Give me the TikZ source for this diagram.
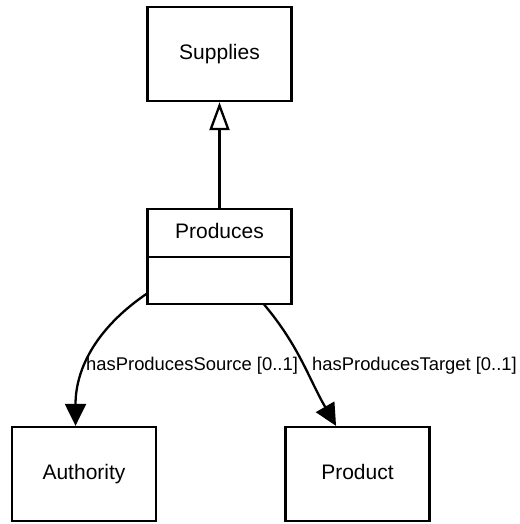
\documentclass[tikz,border=0pt]{standalone}
\usepackage{fontspec}
\setmainfont{Liberation Sans}
\usetikzlibrary{arrows.meta,positioning}

\begin{document}
\begin{tikzpicture}[x=1pt, y=1pt, every node/.style={font=\fontsize{21pt}{25pt}\selectfont}, box/.style={draw, line width=2.3pt, minimum width=144pt, minimum height=94pt, inner sep=0pt, text height=15pt, text depth=4pt}, part/.style={draw, line width=2.3pt, minimum width=144pt, inner sep=0pt, outer sep=0pt}, gen/.style={-{Triangle[open, length=28pt, width=20pt, fill=white]}, line width=2.3pt}, assoc/.style={-{Triangle[length=22pt, width=21pt]}, line width=2.3pt}, role/.style={font=\fontsize{18.4pt}{22pt}\selectfont, anchor=west, inner sep=0pt}]
\useasboundingbox (0,0) rectangle (519,-524);
\node[box] (supplies) at (219.5,-54) {Supplies};
\node[part, minimum height=48pt, text height=15pt, text depth=4pt] (produces) at (219.5,-233) {Produces};
\node[part, minimum height=47pt, below=0pt of produces] (producesattr) {};
\node[box] (authority) at (84,-474) {Authority};
\node[box] (product) at (357.5,-474) {Product};
\draw[gen] (produces) -- (supplies);
\draw[assoc] (producesattr.190) to[out=214, in=90] (authority.100);
\draw[assoc] (producesattr.-28) to[out=-50, in=120] (product.114);
\node[role] (sourcerole) at (86,-366) {hasProducesSource [0..1]};
\node[role] (targetrole) at (312,-366) {hasProducesTarget [0..1]};
\end{tikzpicture}
\end{document}
